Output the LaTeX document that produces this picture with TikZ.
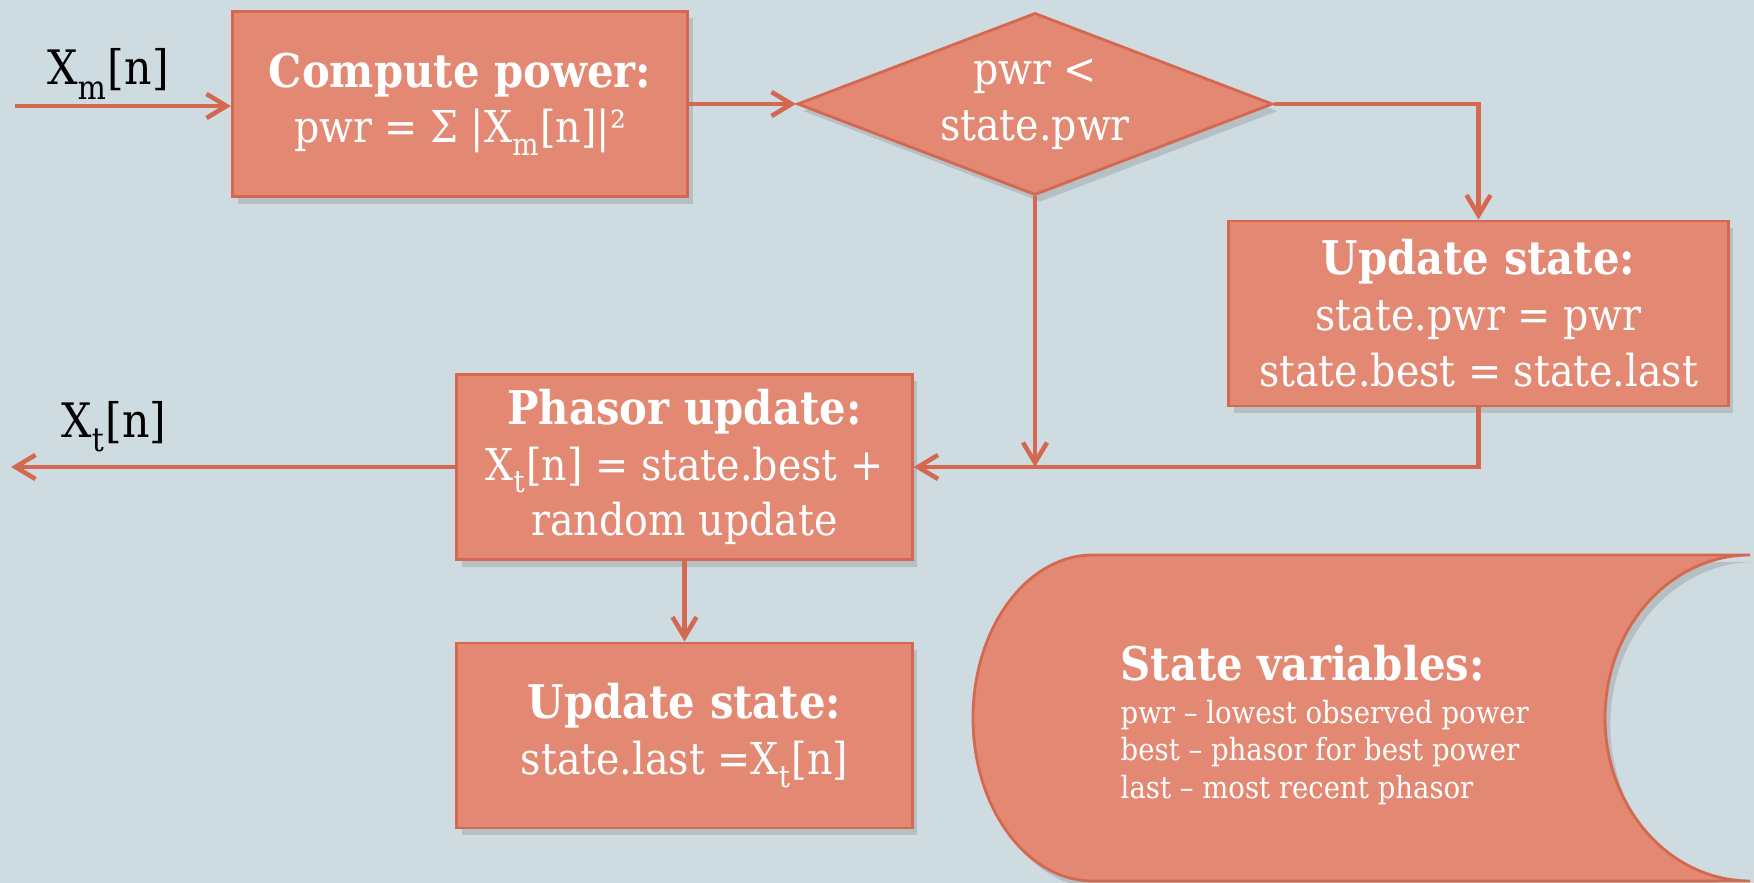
\documentclass[tikz,border=0pt]{standalone}
\usepackage{fontspec}
\setmainfont{DejaVu Serif}[FakeStretch=0.9]
\usetikzlibrary{arrows.meta, positioning, shapes.geometric, shadows}
\definecolor{slide}{RGB}{206,219,224}
\definecolor{boxfill}{RGB}{227,137,115}
\definecolor{boxline}{RGB}{212,104,80}
\newcommand{\boxtitle}[1]{{\fontsize{13.2}{15.9}\selectfont\bfseries #1}}
\newcommand{\lowsub}[1]{\raisebox{-0.14em}{\textsubscript{#1}}}

\begin{document}
\begin{tikzpicture}[
    x=0.01cm, y=0.01cm,
    box/.style={draw=boxline, fill=boxfill, line width=0.8pt, rectangle,
                minimum height=1.85cm, minimum width=4.55cm,
                text=white, align=center,
                font=\fontsize{12.5}{15.9}\selectfont,
                drop shadow={shadow xshift=1.5pt, shadow yshift=-2pt, opacity=0.3}},
    decision/.style={box, diamond, aspect=2.6, inner sep=0pt,
                minimum width=4.75cm, minimum height=1.82cm},
    sig/.style={font=\fontsize{13.5}{16}\selectfont, text=black},
    arr/.style={-{Straight Barb[length=2mm, width=2.4mm]}, draw=boxline, line width=1.3pt},
    store/.style={draw=boxline, fill=boxfill, line width=0.8pt,
                drop shadow={shadow xshift=1.5pt, shadow yshift=-2pt, opacity=0.3}}
]
\useasboundingbox (0,0) rectangle (1754,-883);
\fill[slide] (0,0) rectangle (1754,-883);

% Top row
\node[box]      (pow)  at (460,-104)    {\boxtitle{Compute power:}\\ pwr = Σ |X\lowsub{m}[n]|²};
\node[decision] (cmp)  at (1035,-104)   {pwr <\\ state.pwr};
\node[box, minimum width=4.99cm] (best) at (1478.5,-313.5)
    {\boxtitle{Update state:}\\ state.pwr = pwr\\ state.best = state.last};

% Lower column
\node[box]      (pha)  at (684.5,-467)  {\boxtitle{Phasor update:}\\ X\lowsub{t}[n] = state.best +\\ random update};
\node[box]      (last) at (684.5,-735.5) {\boxtitle{Update state:}\\ state.last =X\lowsub{t}[n]};

% Signals
\coordinate (in)  at (15,-106);
\coordinate (out) at (11,-467);
\node[sig] (xm) at (108,-74)  {X\lowsub{m}[n]};
\node[sig] (xt) at (114,-427) {X\lowsub{t}[n]};

% State variables (stored data)
\draw[store] (1093,-555) -- (1750,-555)
    arc[start angle=90, end angle=270, x radius=145, y radius=163]
    -- (1093,-881)
    arc[start angle=270, end angle=90, x radius=120, y radius=163] -- cycle;
\node[anchor=north west, inner sep=0pt, align=left, text=white,
      font=\fontsize{8.7}{10.7}\selectfont] (vars) at (1120,-645)
    {\boxtitle{State variables:}\\[1.3pt]
     pwr – lowest observed power\\
     best – phasor for best power\\
     last – most recent phasor};

% Connectors
\draw[arr] (in) -- (in -| pow.west);
\draw[arr] (pow.east) -- (cmp.west);
\draw[arr] (cmp.east) -| (best.north);
\draw[arr] (cmp.south) -- (cmp.south |- pha.east);
\draw[arr] (best.south) |- (pha.east);
\draw[arr] (pha.west) -- (out);
\draw[arr] (pha.south) -- (last.north);

\end{tikzpicture}
\end{document}
